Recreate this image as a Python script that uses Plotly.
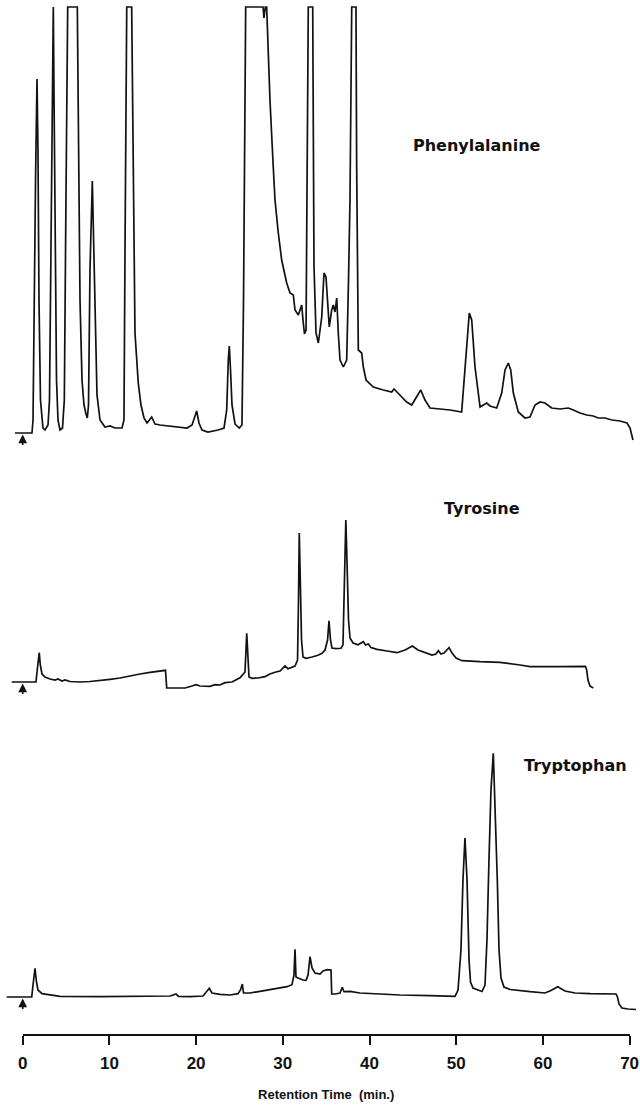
import plotly.graph_objects as go

# ---- Data: retention time (min) and detector response (arbitrary units) ----
phe_time = [-0.89, 1.07, 1.19, 1.30, 1.48, 1.65, 1.76, 1.88, 2.05, 2.34,
            2.57, 2.92, 3.09, 3.26, 3.41, 3.53, 3.61, 3.73, 3.90, 4.07,
            4.30, 4.59, 4.80, 4.99, 5.19, 6.30, 6.41, 6.53, 6.61, 6.84,
            7.07, 7.30, 7.45, 7.59, 7.76, 8.03, 8.17, 8.34, 8.57, 8.92,
            9.49, 10.07, 10.65, 11.45, 11.68, 11.80, 12.00, 12.57, 12.76, 12.95,
            13.33, 13.64, 13.99, 14.34, 14.88, 15.26, 15.84, 16.99, 17.80, 18.95,
            19.53, 20.07, 20.33, 20.68, 21.37, 22.53, 23.22, 23.53, 23.71, 23.83,
            23.97, 24.14, 24.49, 24.98, 25.29, 25.47, 25.72, 27.72, 27.83, 27.98,
            28.14, 28.29, 28.52, 28.90, 29.10, 29.48, 29.87, 30.45, 30.83, 31.21,
            31.41, 31.79, 32.18, 32.33, 32.50, 32.68, 32.83, 32.94, 33.45, 33.52,
            33.60, 33.83, 34.10, 34.49, 34.75, 34.98, 35.13, 35.36, 35.64, 35.82,
            36.02, 36.22, 36.40, 36.60, 36.98, 37.37, 37.58, 37.75, 37.95, 38.44,
            38.52, 38.71, 39.10, 39.29, 39.60, 40.44, 41.59, 42.56, 42.83, 43.52,
            44.29, 44.87, 45.44, 45.91, 46.40, 46.98, 48.13, 49.28, 50.63, 51.01,
            51.51, 51.79, 52.17, 52.75, 53.13, 53.52, 53.90, 54.67, 55.25, 55.63,
            56.01, 56.29, 56.59, 57.16, 57.94, 58.51, 59.09, 59.67, 60.24, 61.01,
            61.97, 62.93, 63.51, 64.28, 65.05, 65.81, 66.39, 67.16, 67.97, 68.89,
            69.70, 70.05, 70.39]
phe_signal = [0, 0, 13, 133, 253, 354, 283, 133, 33, 5,
              3, 8, 33, 183, 340, 426, 340, 183, 53, 13,
              3, 5, 33, 233, 426, 426, 333, 266, 133, 53,
              28, 19, 15, 28, 163, 252, 193, 103, 38, 13,
              6, 7, 5, 5, 13, 183, 426, 426, 233, 100,
              50, 28, 15, 10, 16, 9, 8, 7, 6, 5,
              8, 22, 10, 3, 1, 3, 5, 23, 73, 87,
              63, 28, 9, 5, 8, 133, 426, 426, 415, 426,
              426, 383, 333, 266, 233, 200, 173, 150, 140, 138,
              123, 118, 128, 113, 99, 103, 283, 426, 426, 333,
              166, 100, 90, 116, 160, 156, 133, 106, 123, 128,
              121, 135, 100, 73, 66, 73, 153, 233, 426, 426,
              266, 83, 80, 66, 53, 46, 43, 41, 44, 38,
              31, 28, 36, 43, 33, 25, 24, 23, 21, 66,
              120, 113, 66, 26, 28, 30, 27, 25, 40, 63,
              70, 63, 40, 21, 15, 16, 28, 31, 30, 25,
              24, 25, 23, 20, 18, 17, 15, 15, 13, 12,
              10, 5, -7]

tyr_time = [-1.27, 1.53, 1.65, 1.91, 2.03, 2.23, 2.57, 3.15, 3.73, 4.07,
            4.53, 4.88, 5.46, 6.61, 7.76, 8.92, 10.07, 11.22, 12.38, 13.53,
            14.68, 15.84, 16.47, 16.61, 17.57, 18.72, 19.53, 19.99, 20.45, 21.60,
            22.18, 22.76, 23.33, 24.14, 25.06, 25.64, 25.84, 25.99, 26.10, 26.45,
            27.14, 27.95, 28.52, 29.10, 29.68, 30.25, 30.60, 31.41, 31.70, 31.81,
            31.90, 32.04, 32.16, 32.33, 32.68, 33.37, 34.06, 34.52, 34.87, 35.16,
            35.33, 35.50, 35.67, 36.14, 36.71, 36.94, 37.12, 37.27, 37.40, 37.58,
            37.75, 38.10, 38.67, 39.29, 39.54, 39.86, 40.17, 40.87, 42.02, 43.17,
            44.10, 44.94, 45.59, 46.40, 47.21, 47.67, 47.94, 48.25, 48.59, 49.17,
            49.52, 49.98, 50.67, 52.75, 55.05, 57.36, 58.51, 61.97, 64.91, 65.05,
            65.20, 65.43, 65.81]
tyr_signal = [0, 0, 10, 29.3, 17, 8, 5, 3, 2, 3,
              1, 2, 0.5, 0, 0.5, 1.3, 2.7, 4, 6.3, 8,
              9.7, 11, 11.7, -6, -6.3, -6, -4, -2.7, -4, -4.3,
              -2.7, -3, -0.7, 0, 4.3, 10, 48.7, 22, 5, 3.7,
              4, 5.3, 8, 9.7, 11, 16, 13.3, 16, 22, 82,
              149, 92, 42, 25, 23.7, 25, 26.7, 28.7, 32, 42,
              61.3, 42, 34, 33.3, 33.7, 37, 112, 162, 122, 62,
              44, 39, 37.3, 40.3, 37, 38, 34.5, 32.7, 31, 29.3,
              32, 36, 32, 29.3, 27, 28, 31.3, 28, 29, 34.3,
              29, 24, 21.3, 20.3, 19.7, 17, 15.3, 15.3, 15.7, 12,
              2, -4, -6]

trp_time = [-1.85, 1.04, 1.19, 1.42, 1.59, 1.76, 2.23, 3.15, 4.30, 8.92,
            14.68, 16.99, 17.34, 17.68, 17.97, 19.30, 20.80, 21.14, 21.52, 21.83,
            22.76, 23.91, 24.83, 25.12, 25.33, 25.47, 26.22, 27.37, 28.52, 29.68,
            30.48, 31.06, 31.29, 31.41, 31.52, 31.75, 32.33, 32.68, 32.91, 33.14,
            33.37, 33.71, 34.29, 34.64, 35.10, 35.56, 35.64, 36.02, 36.60, 36.86,
            37.06, 37.75, 38.90, 41.21, 43.52, 46.98, 49.86, 50.21, 50.55, 50.78,
            51.01, 51.25, 51.48, 51.65, 51.94, 52.51, 52.98, 53.32, 53.55, 53.78,
            54.01, 54.28, 54.48, 54.74, 54.94, 55.17, 55.51, 56.21, 58.51, 60.24,
            60.93, 61.71, 62.55, 63.70, 65.43, 68.43, 68.60, 68.78, 69.12, 69.82,
            70.74]
trp_signal = [0, 0, 12, 28.7, 15, 7, 3.3, 2, 0.7, 0.3,
              0.7, 1, 2, 3, 0.7, 0.3, 1, 5, 8.7, 4,
              2.7, 2, 3.3, 7, 13, 4, 4, 5.7, 7.3, 9,
              10.3, 12.3, 22, 47.7, 20, 19, 17, 16.7, 22, 40.3,
              29, 24, 23, 26, 27.3, 27, 3, 3, 4, 9.7,
              5.3, 5.7, 4, 3, 2, 1.3, 0.7, 7, 47, 117,
              159, 117, 37, 15, 9, 7, 5.5, 12, 57, 137,
              207, 243.7, 197, 117, 47, 19, 10, 7.5, 5.3, 4,
              6.5, 10.3, 6, 4, 3.3, 3, 0, -7, -11, -12,
              -12.5]

tick_values = [0, 10, 20, 30, 40, 50, 60, 70]
tick_labels = ["0", "10", "20", "30", "40", "50", "60", "70"]
trace_names = ["Phenylalanine", "Tyrosine", "Tryptophan"]
label_time = [52.4, 53.0, 63.8]
label_signal = [288, 174, 232]
injection_time = 0

# ---- Layout geometry ----
W, H = 640, 1113
MB = 79
PLOT_H = H - MB
PX_PER_MIN = 8.67
X0_PX = 22.7


def dom(top_px, bottom_px):
    return [(PLOT_H - bottom_px) / PLOT_H, (PLOT_H - top_px) / PLOT_H]


panels = [
    # (top px, bottom px, baseline px)
    (0, 445, 433),
    (490, 700, 682),
    (740, 1015, 997),
]

fig = go.Figure()
series = [(phe_time, phe_signal), (tyr_time, tyr_signal), (trp_time, trp_signal)]
yrefs = ["y", "y2", "y3"]
for i, (t, s) in enumerate(series):
    fig.add_trace(go.Scatter(
        x=t, y=s, mode="lines", name=trace_names[i],
        line=dict(color="#111111", width=1.7),
        xaxis="x", yaxis=yrefs[i], showlegend=False, hoverinfo="x+y",
    ))

# invisible carrier for the ruler axis
fig.add_trace(go.Scatter(x=[tick_values[0], tick_values[-1]], y=[0, 0],
                         mode="lines", line=dict(width=0), xaxis="x2", yaxis="y4",
                         showlegend=False, hoverinfo="skip"))

layout = dict(
    width=W, height=H,
    margin=dict(l=0, r=0, t=0, b=MB, pad=0),
    paper_bgcolor="white", plot_bgcolor="white",
    showlegend=False,
    xaxis=dict(domain=[0, 1], range=[-X0_PX / PX_PER_MIN, (W - X0_PX) / PX_PER_MIN],
               visible=False, anchor="y3"),
    xaxis2=dict(domain=[X0_PX / W, (X0_PX + 70 * PX_PER_MIN) / W], range=[0, 70],
                anchor="y4", side="bottom",
                showline=True, linecolor="#111111", linewidth=1.6,
                ticks="outside", ticklen=9, tickwidth=1.6, tickcolor="#111111",
                tickvals=tick_values, ticktext=tick_labels,
                ticklabelstandoff=4,
                tickfont=dict(family="Liberation Sans Narrow, Liberation Sans, Arial, sans-serif",
                              size=17, color="#111111", weight="bold"),
                showgrid=False, zeroline=False, automargin=False,
                title=dict(text="Retention Time\u00a0 (min.)", standoff=18,
                           font=dict(family="Liberation Sans, Arial, sans-serif", size=13,
                                     color="#111111", weight="bold"))),
    yaxis4=dict(domain=[0, 0.005], range=[-1, 1], visible=False),
)
for i, (top, bottom, base) in enumerate(panels):
    key = "yaxis" if i == 0 else f"yaxis{i + 1}"
    layout[key] = dict(domain=dom(top, bottom), range=[base - bottom, base - top],
                       visible=False, anchor="x")
fig.update_layout(**layout)

annotations = []
for i in range(3):
    annotations.append(dict(
        x=label_time[i], y=label_signal[i], xref="x", yref=yrefs[i],
        text=trace_names[i], showarrow=False,
        font=dict(family="DejaVu Sans, Verdana, sans-serif", size=16,
                  color="#111111", weight="bold"),
        xanchor="center", yanchor="middle"))
    annotations.append(dict(
        x=injection_time, y=-1.5, xref="x", yref=yrefs[i],
        ax=0, ay=12, axref="pixel", ayref="pixel",
        text="", showarrow=True, arrowhead=2, arrowsize=1.1, arrowwidth=1.6,
        arrowcolor="#111111", standoff=0))
fig.update_layout(annotations=annotations)

fig.write_html("out.html")
